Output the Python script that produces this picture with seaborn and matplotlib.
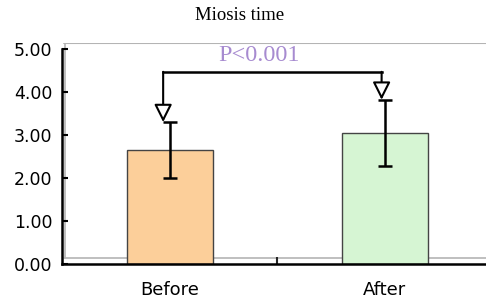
import pandas as pd
import seaborn as sns
import matplotlib.pyplot as plt

groups = ['Before', 'After']
means = [2.65, 3.05]
sds = [0.65, 0.77]
bar_colors = ['#FCCF9A', '#D6F5D3']
p_text = 'P<0.001'
bracket_y = 4.47

df = pd.DataFrame({'group': groups, 'time': means})

sns.set_theme(style='white')
plt.rcParams['font.family'] = ['DejaVu Sans']

fig = plt.figure(figsize=(4.86, 3.01), dpi=100)
ax = fig.add_axes([62 / 486, 1 - 264 / 301, 1 - 62 / 486, (264 - 43) / 301])

sns.barplot(data=df, x='group', y='time', hue='group', palette=bar_colors,
            saturation=1, width=0.4, edgecolor='#444444', linewidth=1.0,
            errorbar=None, legend=False, ax=ax)
ax.errorbar(range(len(groups)), means, yerr=sds, fmt='none', ecolor='black',
            elinewidth=1.8, capsize=5, capthick=1.8, zorder=4)

ax.set_xlim(-0.5, 1.47)
ax.set_ylim(0, 5.14)
ax.set_xlabel('')
ax.set_ylabel('')

# grey inner frame
ax.axhline(0.14, xmin=0.0055, xmax=1, color='#B4B4B4', lw=1.2, zorder=0)
ax.axhline(5.14, xmin=0.0055, xmax=1, color='#B4B4B4', lw=1.5, zorder=0)
ax.axvline(-0.486, ymin=0.14 / 5.14, ymax=1, color='#B4B4B4', lw=1.2, zorder=0)

for s in ['top', 'right']:
    ax.spines[s].set_visible(False)
ax.spines['left'].set_bounds(0, 5)
ax.spines['left'].set_color('black')
ax.spines['left'].set_linewidth(1.8)
ax.spines['bottom'].set_color('black')
ax.spines['bottom'].set_linewidth(1.8)

ax.set_yticks([0, 1, 2, 3, 4, 5])
ax.set_yticklabels([f'{v:.2f}' for v in [0, 1, 2, 3, 4, 5]])
ax.tick_params(axis='y', direction='in', length=4, width=1.5, pad=7,
               labelsize=12.5, left=True, colors='black')
ax.tick_params(axis='x', length=0, pad=12, labelsize=13, colors='black')
ax.set_xticks([0.5], minor=True)
ax.tick_params(axis='x', which='minor', direction='in', length=5, width=1.5,
               bottom=True)

# significance bracket
xl, xr = -0.03, 0.985
ax.plot([xl, xr], [bracket_y, bracket_y], color='black', lw=1.8,
        solid_capstyle='projecting')
for x, top in [(xl, means[0] + sds[0]), (xr, means[1] + sds[1])]:
    ax.annotate('', xy=(x, top), xytext=(x, bracket_y),
                arrowprops=dict(arrowstyle='-|>', fc='white', ec='black',
                                lw=1.5, mutation_scale=27, shrinkA=0, shrinkB=0))
ax.text(0.415, 5.1, p_text, ha='center', va='top', color='#A78BD0',
        fontsize=17.5, family='Liberation Serif')

fig.text(240 / 486, 1 - 16 / 301, 'Miosis time', ha='center', va='center',
         fontsize=13.5, family='Liberation Serif', color='black')

fig.savefig('out.png', dpi=100)
